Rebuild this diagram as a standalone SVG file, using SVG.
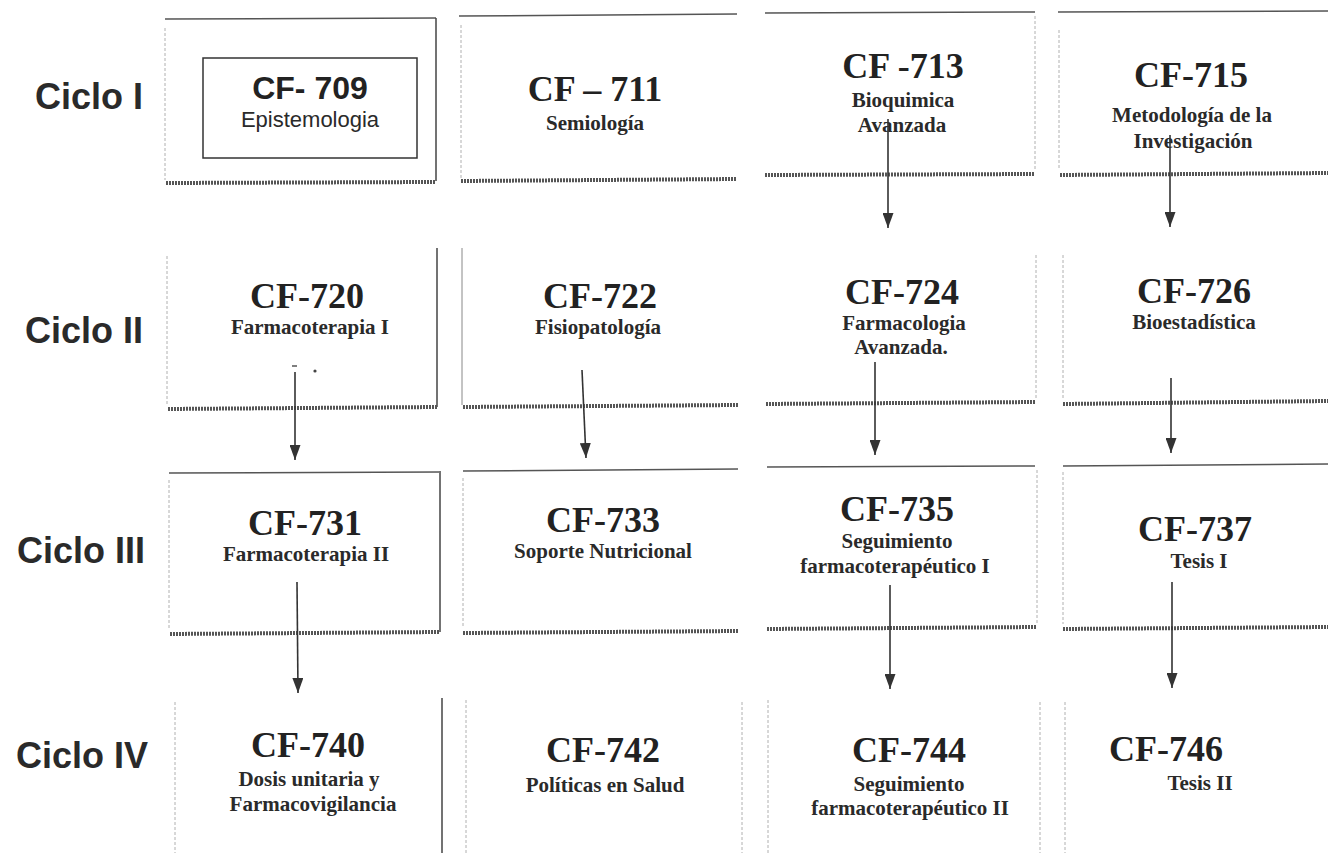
<svg xmlns="http://www.w3.org/2000/svg" width="1328" height="853" viewBox="0 0 1328 853">
<defs>
<marker id="ah" markerUnits="userSpaceOnUse" markerWidth="15" markerHeight="11" refX="15" refY="5.5" orient="auto" viewBox="0 0 15 11">
<path d="M0,0 L15,5.5 L0,11 Z" fill="#333"/>
</marker>
<style>
.lbl{font-family:"Liberation Sans",Arial,sans-serif;font-weight:bold;font-size:36px;fill:#2a2a2a;text-anchor:end}
.code{font-family:"Liberation Serif","Times New Roman",serif;font-weight:bold;font-size:36px;fill:#222;text-anchor:middle}
.sub{font-family:"Liberation Serif","Times New Roman",serif;font-weight:bold;font-size:21px;fill:#2a2a2a;text-anchor:middle}
.top{stroke:#555;stroke-width:1.5;fill:none}
.edge{stroke:#b0b0b0;stroke-width:1;stroke-dasharray:3 2;fill:none}
.dark{stroke:#444;stroke-width:1.5;fill:none}
.bot{stroke:#555;stroke-width:4;stroke-dasharray:2 1;fill:none}
.arr{stroke:#333;stroke-width:1.6;fill:none;marker-end:url(#ah)}
</style>
</defs>
<rect width="1328" height="853" fill="#fff"/>

<g id="labels">
<text class="lbl" x="143" y="109">Ciclo I</text>
<text class="lbl" x="143" y="343">Ciclo II</text>
<text class="lbl" x="145" y="563">Ciclo III</text>
<text class="lbl" x="148" y="768">Ciclo IV</text>
</g>

<g id="cf709">
<line class="top" x1="165" y1="19" x2="436" y2="18"/>
<line class="edge" x1="165" y1="28" x2="165" y2="180"/>
<line class="dark" x1="436" y1="18" x2="436" y2="181"/>
<line class="bot" x1="166" y1="183" x2="436" y2="182"/>
<rect x="203" y="58" width="214" height="100" fill="none" stroke="#333" stroke-width="1.5"/>
<text x="310" y="99" text-anchor="middle" font-family="'Liberation Sans',Arial,sans-serif" font-weight="bold" font-size="32" fill="#222">CF- 709</text>
<text x="310" y="127" text-anchor="middle" font-family="'Liberation Sans',Arial,sans-serif" font-size="22" fill="#2a2a2a">Epistemologia</text>
</g>

<g id="cf711">
<line class="top" x1="459" y1="16" x2="737" y2="14"/>
<line class="edge" x1="461" y1="25" x2="461" y2="178"/>
<line class="bot" x1="461" y1="181" x2="737" y2="179"/>
<text class="code" x="595" y="101" font-size="38">CF – 711</text>
<text class="sub" x="595" y="130">Semiología</text>
</g>

<g id="cf713">
<line class="top" x1="765" y1="13" x2="1035" y2="12"/>
<line class="edge" x1="1035" y1="16" x2="1035" y2="170"/>
<line class="bot" x1="765" y1="175" x2="1035" y2="174"/>
<text class="code" x="903" y="78">CF -713</text>
<text class="sub" x="903" y="107">Bioquimica</text>
<text class="sub" x="902" y="132">Avanzada</text>
</g>

<g id="cf715">
<line class="top" x1="1058" y1="12" x2="1328" y2="11"/>
<line class="edge" x1="1059" y1="30" x2="1059" y2="168"/>
<line class="bot" x1="1060" y1="175" x2="1328" y2="173"/>
<text class="code" x="1191" y="87">CF-715</text>
<text class="sub" x="1192" y="122">Metodología de la</text>
<text class="sub" x="1193" y="148">Investigación</text>
</g>

<g id="cf720">
<line class="edge" x1="167" y1="256" x2="167" y2="404"/>
<line class="dark" x1="437" y1="248" x2="437" y2="407"/>
<line class="bot" x1="168" y1="409" x2="437" y2="407"/>
<text class="code" x="307" y="308">CF-720</text>
<text class="sub" x="310" y="334">Farmacoterapia I</text>
<line x1="292" y1="366" x2="297" y2="366" stroke="#555" stroke-width="1.5"/>
<circle cx="315" cy="371" r="1.6" fill="#444"/>
</g>

<g id="cf722">
<line x1="462" y1="248" x2="462" y2="405" stroke="#888" stroke-width="1"/>
<line class="bot" x1="463" y1="407" x2="738" y2="405"/>
<text class="code" x="600" y="308">CF-722</text>
<text class="sub" x="598" y="334">Fisiopatología</text>
</g>

<g id="cf724">
<line class="edge" x1="1036" y1="255" x2="1036" y2="398"/>
<line class="bot" x1="766" y1="404" x2="1036" y2="402"/>
<text class="code" x="902" y="304">CF-724</text>
<text class="sub" x="904" y="330">Farmacologia</text>
<text class="sub" x="901" y="354">Avanzada.</text>
</g>

<g id="cf726">
<line class="edge" x1="1063" y1="255" x2="1063" y2="398"/>
<line class="bot" x1="1063" y1="404" x2="1328" y2="401"/>
<text class="code" x="1194" y="303">CF-726</text>
<text class="sub" x="1194" y="329">Bioestadística</text>
</g>

<g id="cf731">
<line class="top" x1="169" y1="473" x2="439" y2="472"/>
<line class="edge" x1="169" y1="480" x2="169" y2="628"/>
<line class="dark" x1="440" y1="471" x2="440" y2="632"/>
<line class="bot" x1="170" y1="634" x2="440" y2="632"/>
<text class="code" x="305" y="535">CF-731</text>
<text class="sub" x="306" y="561">Farmacoterapia II</text>
</g>

<g id="cf733">
<line class="top" x1="463" y1="471" x2="738" y2="469"/>
<line class="edge" x1="463" y1="478" x2="463" y2="628"/>
<line class="bot" x1="463" y1="633" x2="738" y2="631"/>
<text class="code" x="603" y="532">CF-733</text>
<text class="sub" x="603" y="558">Soporte Nutricional</text>
</g>

<g id="cf735">
<line class="top" x1="767" y1="467" x2="1035" y2="466"/>
<line class="edge" x1="1037" y1="470" x2="1037" y2="624"/>
<line class="bot" x1="767" y1="629" x2="1037" y2="627"/>
<text class="code" x="897" y="521">CF-735</text>
<text class="sub" x="897" y="548">Seguimiento</text>
<text class="sub" x="895" y="573">farmacoterapéutico I</text>
</g>

<g id="cf737">
<line class="top" x1="1063" y1="466" x2="1328" y2="464"/>
<line class="edge" x1="1063" y1="472" x2="1063" y2="624"/>
<line class="bot" x1="1063" y1="629" x2="1328" y2="627"/>
<text class="code" x="1195" y="541">CF-737</text>
<text class="sub" x="1199" y="568">Tesis I</text>
</g>

<g id="cf740">
<line class="edge" x1="175" y1="702" x2="175" y2="853"/>
<line class="dark" x1="442" y1="698" x2="442" y2="853"/>
<text class="code" x="308" y="757">CF-740</text>
<text class="sub" x="309" y="786">Dosis unitaria y</text>
<text class="sub" x="313" y="811">Farmacovigilancia</text>
</g>

<g id="cf742">
<line class="edge" x1="466" y1="700" x2="466" y2="853"/>
<line class="edge" x1="742" y1="702" x2="742" y2="853"/>
<text class="code" x="603" y="762">CF-742</text>
<text class="sub" x="605" y="792">Políticas en Salud</text>
</g>

<g id="cf744">
<line class="edge" x1="768" y1="700" x2="768" y2="853"/>
<line class="edge" x1="1040" y1="702" x2="1040" y2="853"/>
<text class="code" x="909" y="762">CF-744</text>
<text class="sub" x="909" y="791">Seguimiento</text>
<text class="sub" x="910" y="815">farmacoterapéutico II</text>
</g>

<g id="cf746">
<line class="edge" x1="1065" y1="702" x2="1065" y2="853"/>
<text class="code" x="1166" y="761">CF-746</text>
<text class="sub" x="1200" y="790">Tesis II</text>
</g>

<g id="connectors">
<line class="arr" x1="888" y1="119" x2="888" y2="228"/>
<line class="arr" x1="1170" y1="135" x2="1170" y2="227"/>
<line class="arr" x1="295" y1="372" x2="295" y2="460"/>
<line class="arr" x1="582" y1="370" x2="586" y2="458"/>
<line class="arr" x1="875" y1="362" x2="875" y2="455"/>
<line class="arr" x1="1171" y1="378" x2="1171" y2="453"/>
<line class="arr" x1="297" y1="582" x2="298" y2="693"/>
<line class="arr" x1="890" y1="585" x2="890" y2="689"/>
<line class="arr" x1="1172" y1="582" x2="1172" y2="688"/>
</g>
</svg>
